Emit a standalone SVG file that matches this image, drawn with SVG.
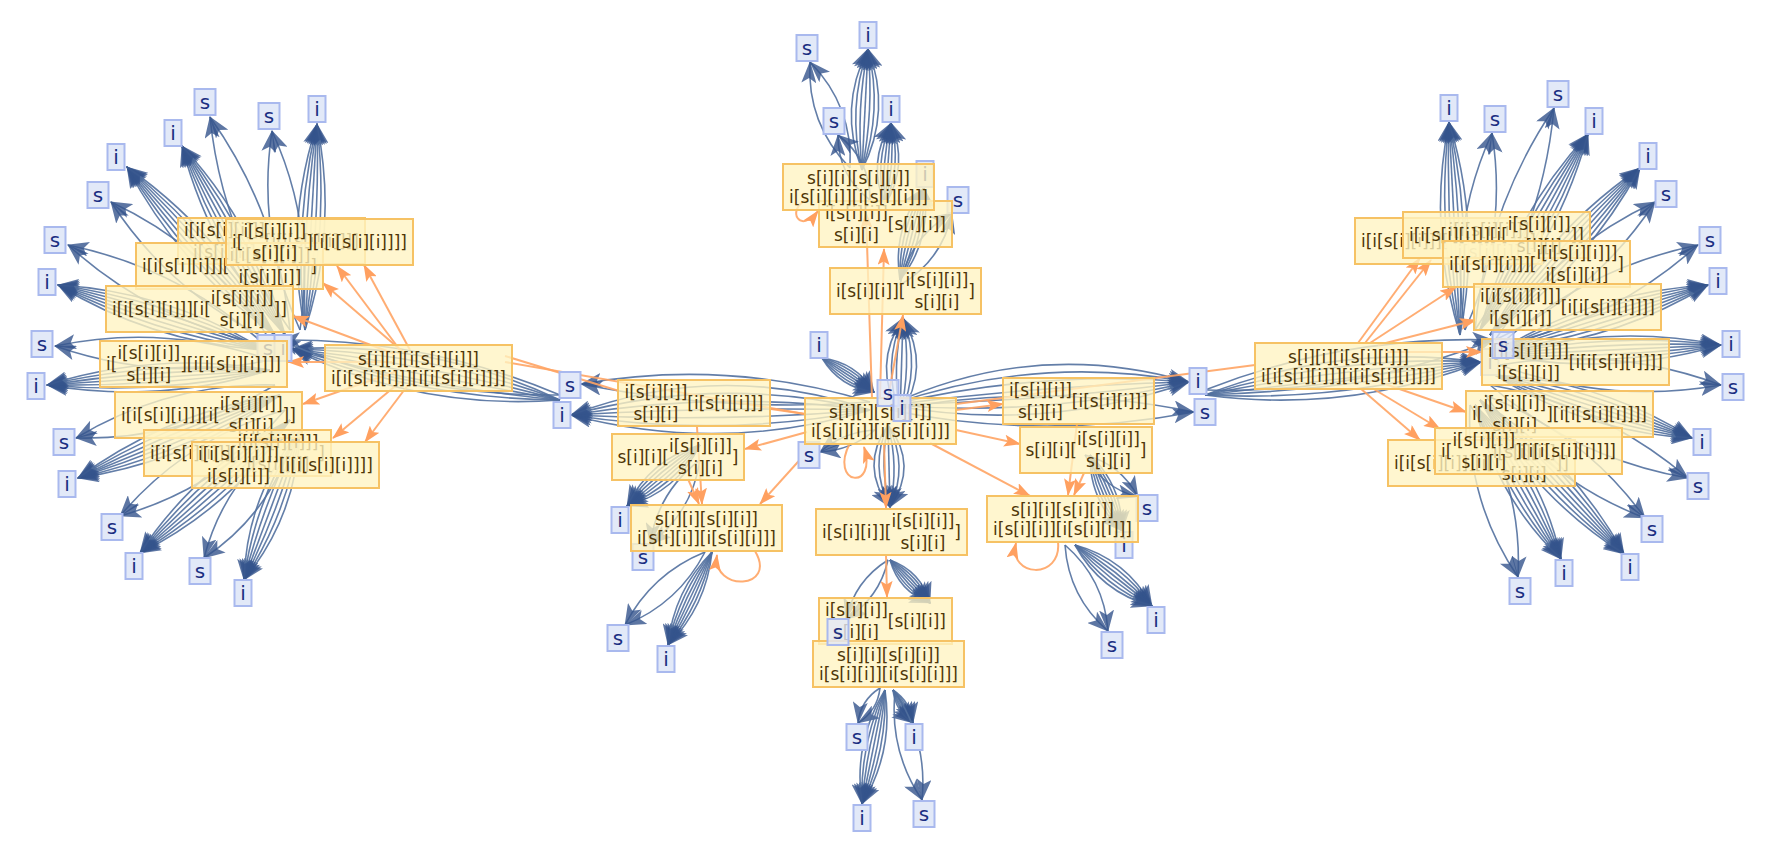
<svg xmlns="http://www.w3.org/2000/svg" width="1770" height="854" viewBox="0 0 1770 854">
<defs>
<marker id="ab" markerUnits="userSpaceOnUse" markerWidth="22" markerHeight="15" viewBox="0 0 22 15" refX="21" refY="7.5" orient="auto"><path d="M0,0 L22,7.5 L0,15 L5,7.5 Z" fill="#34548c" fill-opacity="0.8"/></marker>
<marker id="ao" markerUnits="userSpaceOnUse" markerWidth="17" markerHeight="12" viewBox="0 0 17 12" refX="16" refY="6" orient="auto"><path d="M0,0 L17,6 L0,12 L3.5,6 Z" fill="#ffa060"/></marker>
</defs>
<style>
.e{fill:none;stroke:#52709f;stroke-width:1.6;stroke-opacity:.9;marker-end:url(#ab)}
.o{fill:none;stroke:#ffa464;stroke-width:2;stroke-opacity:.9}
.oa{marker-end:url(#ao)}
.b{fill:#fff3c2;fill-opacity:.78;stroke:#f6c264;stroke-width:2}
.lf{fill:#e2e9f8;stroke:#a9b9ee;stroke-width:2}
.t{font-family:"DejaVu Sans","Liberation Sans",sans-serif;font-size:17px;fill:#4f3607}
.m{text-anchor:middle}
.lt{font-family:"DejaVu Sans","Liberation Sans",sans-serif;font-size:20px;fill:#1b2f82;text-anchor:middle}
</style>
<rect width="1770" height="854" fill="#ffffff"/>
<g id="connectors">
<g id="blue-edges">
<path class="e" d="M305,330Q284,225.4 317,124"/><path class="e" d="M305,330Q293,226 317,124"/><path class="e" d="M305,330Q302,226.5 317,124"/><path class="e" d="M305,330Q311,227 317,124"/><path class="e" d="M305,330Q320,227.5 317,124"/><path class="e" d="M305,330Q329,228 317,124"/><path class="e" d="M305,330Q338,228.6 317,124"/>
<path class="e" d="M285,335Q209.8,253.4 182,146"/><path class="e" d="M285,335Q217.7,249.1 182,146"/><path class="e" d="M285,335Q225.6,244.8 182,146"/><path class="e" d="M285,335Q233.5,240.5 182,146"/><path class="e" d="M285,335Q241.4,236.2 182,146"/><path class="e" d="M285,335Q249.3,231.9 182,146"/><path class="e" d="M285,335Q257.2,227.6 182,146"/>
<path class="e" d="M275,335Q180.7,268.8 127,167"/><path class="e" d="M275,335Q187.5,262.9 127,167"/><path class="e" d="M275,335Q194.2,257 127,167"/><path class="e" d="M275,335Q201,251 127,167"/><path class="e" d="M275,335Q207.8,245 127,167"/><path class="e" d="M275,335Q214.5,239.1 127,167"/><path class="e" d="M275,335Q221.3,233.2 127,167"/>
<path class="e" d="M265,350Q153.4,343.3 58,285"/><path class="e" d="M265,350Q156.1,334.7 58,285"/><path class="e" d="M265,350Q158.8,326.1 58,285"/><path class="e" d="M265,350Q161.5,317.5 58,285"/><path class="e" d="M265,350Q164.2,308.9 58,285"/><path class="e" d="M265,350Q166.9,300.3 58,285"/><path class="e" d="M265,350Q169.6,291.7 58,285"/>
<path class="e" d="M270,370Q160.3,404.4 47,385"/><path class="e" d="M270,370Q159.7,395.5 47,385"/><path class="e" d="M270,370Q159.1,386.5 47,385"/><path class="e" d="M270,370Q158.5,377.5 47,385"/><path class="e" d="M270,370Q157.9,368.5 47,385"/><path class="e" d="M270,370Q157.3,359.5 47,385"/><path class="e" d="M270,370Q156.7,350.6 47,385"/>
<path class="e" d="M280,395Q189.3,461.5 78,478"/><path class="e" d="M280,395Q185.8,453.1 78,478"/><path class="e" d="M280,395Q182.4,444.8 78,478"/><path class="e" d="M280,395Q179,436.5 78,478"/><path class="e" d="M280,395Q175.6,428.2 78,478"/><path class="e" d="M280,395Q172.2,419.9 78,478"/><path class="e" d="M280,395Q168.7,411.5 78,478"/>
<path class="e" d="M290,420Q232.9,506.7 140,553"/><path class="e" d="M290,420Q226.9,500 140,553"/><path class="e" d="M290,420Q221,493.2 140,553"/><path class="e" d="M290,420Q215,486.5 140,553"/><path class="e" d="M290,420Q209,479.8 140,553"/><path class="e" d="M290,420Q203.1,473 140,553"/><path class="e" d="M290,420Q197.1,466.3 140,553"/>
<path class="e" d="M300,430Q297.3,514.4 244,580"/><path class="e" d="M300,430Q288.9,511.3 244,580"/><path class="e" d="M300,430Q280.4,508.1 244,580"/><path class="e" d="M300,430Q272,505 244,580"/><path class="e" d="M300,430Q263.6,501.9 244,580"/><path class="e" d="M300,430Q255.1,498.7 244,580"/><path class="e" d="M300,430Q246.7,495.6 244,580"/>
<path class="e" d="M300,330Q256.3,234.7 272,131"/><path class="e" d="M300,330Q315.7,226.3 272,131"/>
<path class="e" d="M290,330Q221.9,234.1 210,117"/><path class="e" d="M290,330Q278.1,212.9 210,117"/>
<path class="e" d="M270,340Q170.8,293.7 111,202"/><path class="e" d="M270,340Q210.2,248.3 111,202"/>
<path class="e" d="M265,345Q152.9,321.8 68,245"/><path class="e" d="M265,345Q180.1,268.2 68,245"/>
<path class="e" d="M270,360Q160.6,382.9 55,346"/><path class="e" d="M270,360Q164.4,323.1 55,346"/>
<path class="e" d="M275,385Q183.2,440.5 76,438"/><path class="e" d="M275,385Q167.8,382.5 76,438"/>
<path class="e" d="M285,410Q218.7,488.2 120,516"/><path class="e" d="M285,410Q186.3,437.8 120,516"/>
<path class="e" d="M295,430Q273.9,511.4 204,558"/><path class="e" d="M295,430Q225.1,476.6 204,558"/>
<path class="e" d="M560,400Q419.5,410.9 292,349"/><path class="e" d="M560,400Q421.7,399.1 292,349"/><path class="e" d="M560,400Q423.8,387.3 292,349"/><path class="e" d="M560,400Q426,375.5 292,349"/><path class="e" d="M560,400Q428.2,363.7 292,349"/><path class="e" d="M560,400Q430.3,351.9 292,349"/><path class="e" d="M560,400Q432.5,340.1 292,349"/>
<path class="e" d="M560,395Q413.7,396.9 279,340"/><path class="e" d="M560,395Q425.3,338.1 279,340"/>
<path class="e" d="M862,170Q838,108.2 868,49"/><path class="e" d="M862,170Q847,108.6 868,49"/><path class="e" d="M862,170Q856,109.1 868,49"/><path class="e" d="M862,170Q865,109.5 868,49"/><path class="e" d="M862,170Q874,109.9 868,49"/><path class="e" d="M862,170Q883,110.4 868,49"/><path class="e" d="M862,170Q892,110.9 868,49"/>
<path class="e" d="M850,168Q806.6,123.8 810,62"/><path class="e" d="M850,168Q853.4,106.2 810,62"/>
<path class="e" d="M885,205Q867,162.5 891,123"/><path class="e" d="M885,205Q874,163 891,123"/><path class="e" d="M885,205Q881,163.5 891,123"/><path class="e" d="M885,205Q888,164 891,123"/><path class="e" d="M885,205Q895,164.5 891,123"/><path class="e" d="M885,205Q902,165 891,123"/><path class="e" d="M885,205Q909,165.5 891,123"/>
<path class="e" d="M870,200Q837.8,175.5 838,135"/><path class="e" d="M870,200Q870.2,159.5 838,135"/>
<path class="e" d="M900,280Q891.7,228.7 924,188"/><path class="e" d="M900,280Q898.5,230.5 924,188"/><path class="e" d="M900,280Q905.2,232.2 924,188"/><path class="e" d="M900,280Q912,234 924,188"/><path class="e" d="M900,280Q918.8,235.8 924,188"/><path class="e" d="M900,280Q925.5,237.5 924,188"/><path class="e" d="M900,280Q932.3,239.3 924,188"/>
<path class="e" d="M900,285Q909.8,237.3 952,213"/><path class="e" d="M900,285Q942.2,260.7 952,213"/>
<path class="e" d="M900,415Q871.5,365.6 903,318"/><path class="e" d="M900,415Q881.5,365.9 903,318"/><path class="e" d="M900,415Q891.5,366.2 903,318"/><path class="e" d="M900,415Q901.5,366.5 903,318"/><path class="e" d="M900,415Q911.5,366.8 903,318"/><path class="e" d="M900,415Q921.5,367.1 903,318"/><path class="e" d="M900,415Q931.5,367.4 903,318"/>
<path class="e" d="M888,425Q919,465.3 890,507"/><path class="e" d="M888,425Q909,465.5 890,507"/><path class="e" d="M888,425Q899,465.8 890,507"/><path class="e" d="M888,425Q889,466 890,507"/><path class="e" d="M888,425Q879,466.2 890,507"/><path class="e" d="M888,425Q869,466.5 890,507"/><path class="e" d="M888,425Q859,466.7 890,507"/>
<path class="e" d="M870,410Q721.3,454.5 571,415"/><path class="e" d="M870,410Q721,438.5 571,415"/><path class="e" d="M870,410Q720.8,422.5 571,415"/><path class="e" d="M870,410Q720.5,406.5 571,415"/><path class="e" d="M870,410Q720.2,390.5 571,415"/><path class="e" d="M870,410Q720,374.5 571,415"/><path class="e" d="M870,410Q719.7,358.5 571,415"/>
<path class="e" d="M870,402Q727.7,358.1 581,384"/><path class="e" d="M870,402Q724.3,413 581,384"/>
<path class="e" d="M890,405Q1035.8,337.6 1189,382"/><path class="e" d="M890,405Q1037,353.6 1189,382"/><path class="e" d="M890,405Q1038.3,369.6 1189,382"/><path class="e" d="M890,405Q1039.5,385.5 1189,382"/><path class="e" d="M890,405Q1040.7,401.4 1189,382"/><path class="e" d="M890,405Q1042,417.4 1189,382"/><path class="e" d="M890,405Q1043.2,433.4 1189,382"/>
<path class="e" d="M890,410Q1042,381 1194,412"/><path class="e" d="M890,410Q1042,441 1194,412"/>
<path class="e" d="M822,358Q856.2,362.4 874,392"/><path class="e" d="M822,358Q853.5,366.6 874,392"/><path class="e" d="M822,358Q850.7,370.8 874,392"/><path class="e" d="M822,358Q848,375 874,392"/><path class="e" d="M822,358Q845.3,379.2 874,392"/><path class="e" d="M822,358Q842.5,383.4 874,392"/><path class="e" d="M822,358Q839.8,387.6 874,392"/>
<path class="e" d="M875,430Q843.8,431.7 820,452"/><path class="e" d="M875,430Q851.2,450.3 820,452"/>
<path class="e" d="M700,445Q677,491.6 627,506"/><path class="e" d="M700,445Q672.5,486.2 627,506"/><path class="e" d="M700,445Q668,480.9 627,506"/><path class="e" d="M700,445Q663.5,475.5 627,506"/><path class="e" d="M700,445Q659,470.1 627,506"/><path class="e" d="M700,445Q654.5,464.8 627,506"/><path class="e" d="M700,445Q650,459.4 627,506"/>
<path class="e" d="M700,460Q657.8,491.8 650,544"/><path class="e" d="M700,460Q692.2,512.2 650,544"/>
<path class="e" d="M705,552Q651.5,573.7 625,625"/><path class="e" d="M705,552Q678.5,603.3 625,625"/>
<path class="e" d="M712,552Q706.3,606.2 668,645"/><path class="e" d="M712,552Q700.8,603.6 668,645"/><path class="e" d="M712,552Q695.4,601.1 668,645"/><path class="e" d="M712,552Q690,598.5 668,645"/><path class="e" d="M712,552Q684.6,595.9 668,645"/><path class="e" d="M712,552Q679.2,593.4 668,645"/><path class="e" d="M712,552Q673.7,590.8 668,645"/>
<path class="e" d="M888,560Q854.8,580.8 846,619"/><path class="e" d="M888,560Q879.2,598.2 846,619"/>
<path class="e" d="M890,560Q921,571.3 930,603"/><path class="e" d="M890,560Q917.3,574.7 930,603"/><path class="e" d="M890,560Q913.7,578.1 930,603"/><path class="e" d="M890,560Q910,581.5 930,603"/><path class="e" d="M890,560Q906.3,584.9 930,603"/><path class="e" d="M890,560Q902.7,588.3 930,603"/><path class="e" d="M890,560Q899,591.7 930,603"/>
<path class="e" d="M880,688Q860.5,700.2 858,723"/><path class="e" d="M880,688Q877.5,710.8 858,723"/>
<path class="e" d="M893,690Q910.7,701.8 913,723"/><path class="e" d="M893,690Q908.1,703.4 913,723"/><path class="e" d="M893,690Q905.6,704.9 913,723"/><path class="e" d="M893,690Q903,706.5 913,723"/><path class="e" d="M893,690Q900.4,708.1 913,723"/><path class="e" d="M893,690Q897.9,709.6 913,723"/><path class="e" d="M893,690Q895.3,711.2 913,723"/>
<path class="e" d="M885,690Q894.1,751.2 862,804"/><path class="e" d="M885,690Q887.2,749.8 862,804"/><path class="e" d="M885,690Q880.4,748.4 862,804"/><path class="e" d="M885,690Q873.5,747 862,804"/><path class="e" d="M885,690Q866.6,745.6 862,804"/><path class="e" d="M885,690Q859.8,744.2 862,804"/><path class="e" d="M885,690Q852.9,742.8 862,804"/>
<path class="e" d="M895,692Q889.1,750.9 922,800"/><path class="e" d="M895,692Q927.9,741.1 922,800"/>
<path class="e" d="M1085,455Q1102.2,487.8 1138,497"/><path class="e" d="M1085,455Q1120.8,464.2 1138,497"/>
<path class="e" d="M1090,455Q1122.6,486 1122,531"/><path class="e" d="M1090,455Q1117.1,488.3 1122,531"/><path class="e" d="M1090,455Q1111.5,490.7 1122,531"/><path class="e" d="M1090,455Q1106,493 1122,531"/><path class="e" d="M1090,455Q1100.5,495.3 1122,531"/><path class="e" d="M1090,455Q1094.9,497.7 1122,531"/><path class="e" d="M1090,455Q1089.4,500 1122,531"/>
<path class="e" d="M1075,545Q1126.5,559 1152,606"/><path class="e" d="M1075,545Q1122.2,564.5 1152,606"/><path class="e" d="M1075,545Q1117.8,570 1152,606"/><path class="e" d="M1075,545Q1113.5,575.5 1152,606"/><path class="e" d="M1075,545Q1109.2,581 1152,606"/><path class="e" d="M1075,545Q1104.8,586.5 1152,606"/><path class="e" d="M1075,545Q1100.5,592 1152,606"/>
<path class="e" d="M1065,545Q1068.6,596.9 1108,631"/><path class="e" d="M1065,545Q1104.4,579.1 1108,631"/>
<path class="e" d="M1205,395Q1338.7,342.8 1481,362"/><path class="e" d="M1205,395Q1340.2,354.7 1481,362"/><path class="e" d="M1205,395Q1341.6,366.6 1481,362"/><path class="e" d="M1205,395Q1343,378.5 1481,362"/><path class="e" d="M1205,395Q1344.4,390.4 1481,362"/><path class="e" d="M1205,395Q1345.8,402.3 1481,362"/><path class="e" d="M1205,395Q1347.3,414.2 1481,362"/>
<path class="e" d="M1205,390Q1343.9,335.4 1493,340"/><path class="e" d="M1205,390Q1354.1,394.6 1493,340"/>
<path class="e" d="M1460,335Q1427.5,229.9 1449,122"/><path class="e" d="M1460,335Q1436.5,229.4 1449,122"/><path class="e" d="M1460,335Q1445.5,229 1449,122"/><path class="e" d="M1460,335Q1454.5,228.5 1449,122"/><path class="e" d="M1460,335Q1463.5,228 1449,122"/><path class="e" d="M1460,335Q1472.5,227.6 1449,122"/><path class="e" d="M1460,335Q1481.5,227.1 1449,122"/>
<path class="e" d="M1465,330Q1448.8,227.4 1492,133"/><path class="e" d="M1465,330Q1508.2,235.6 1492,133"/>
<path class="e" d="M1475,330Q1486.2,208.9 1554,108"/><path class="e" d="M1475,330Q1542.8,229.1 1554,108"/>
<path class="e" d="M1480,330Q1510.4,219 1588,134"/><path class="e" d="M1480,330Q1518.2,223.3 1588,134"/><path class="e" d="M1480,330Q1526.1,227.7 1588,134"/><path class="e" d="M1480,330Q1534,232 1588,134"/><path class="e" d="M1480,330Q1541.9,236.3 1588,134"/><path class="e" d="M1480,330Q1549.8,240.7 1588,134"/><path class="e" d="M1480,330Q1557.6,245 1588,134"/>
<path class="e" d="M1490,335Q1544.9,233.5 1640,168"/><path class="e" d="M1490,335Q1551.6,239.5 1640,168"/><path class="e" d="M1490,335Q1558.3,245.5 1640,168"/><path class="e" d="M1490,335Q1565,251.5 1640,168"/><path class="e" d="M1490,335Q1571.7,257.5 1640,168"/><path class="e" d="M1490,335Q1578.4,263.5 1640,168"/><path class="e" d="M1490,335Q1585.1,269.5 1640,168"/>
<path class="e" d="M1495,340Q1555.4,248.3 1655,202"/><path class="e" d="M1495,340Q1594.6,293.7 1655,202"/>
<path class="e" d="M1500,345Q1585.5,268.2 1698,245"/><path class="e" d="M1500,345Q1612.5,321.8 1698,245"/>
<path class="e" d="M1500,350Q1596,291.7 1708,285"/><path class="e" d="M1500,350Q1598.6,300.3 1708,285"/><path class="e" d="M1500,350Q1601.3,308.9 1708,285"/><path class="e" d="M1500,350Q1604,317.5 1708,285"/><path class="e" d="M1500,350Q1606.7,326.1 1708,285"/><path class="e" d="M1500,350Q1609.4,334.7 1708,285"/><path class="e" d="M1500,350Q1612,343.3 1708,285"/>
<path class="e" d="M1500,355Q1609.3,323 1721,345"/><path class="e" d="M1500,355Q1609.7,332 1721,345"/><path class="e" d="M1500,355Q1610.1,341 1721,345"/><path class="e" d="M1500,355Q1610.5,350 1721,345"/><path class="e" d="M1500,355Q1610.9,359 1721,345"/><path class="e" d="M1500,355Q1611.3,368 1721,345"/><path class="e" d="M1500,355Q1611.7,377 1721,345"/>
<path class="e" d="M1500,365Q1613.2,345.1 1721,385"/><path class="e" d="M1500,365Q1607.8,404.9 1721,385"/>
<path class="e" d="M1495,375Q1601.7,380.8 1692,438"/><path class="e" d="M1495,375Q1599,389.4 1692,438"/><path class="e" d="M1495,375Q1596.2,397.9 1692,438"/><path class="e" d="M1495,375Q1593.5,406.5 1692,438"/><path class="e" d="M1495,375Q1590.8,415.1 1692,438"/><path class="e" d="M1495,375Q1588,423.6 1692,438"/><path class="e" d="M1495,375Q1585.3,432.2 1692,438"/>
<path class="e" d="M1490,385Q1601.8,404.4 1688,478"/><path class="e" d="M1490,385Q1576.2,458.6 1688,478"/>
<path class="e" d="M1485,395Q1583.3,432.7 1645,518"/><path class="e" d="M1485,395Q1546.7,480.3 1645,518"/>
<path class="e" d="M1480,400Q1571.7,458.6 1624,554"/><path class="e" d="M1480,400Q1565.2,464.7 1624,554"/><path class="e" d="M1480,400Q1558.6,470.9 1624,554"/><path class="e" d="M1480,400Q1552,477 1624,554"/><path class="e" d="M1480,400Q1545.4,483.1 1624,554"/><path class="e" d="M1480,400Q1538.8,489.3 1624,554"/><path class="e" d="M1480,400Q1532.3,495.4 1624,554"/>
<path class="e" d="M1475,405Q1541.6,468.8 1561,559"/><path class="e" d="M1475,405Q1533.7,473.2 1561,559"/><path class="e" d="M1475,405Q1525.9,477.6 1561,559"/><path class="e" d="M1475,405Q1518,482 1561,559"/><path class="e" d="M1475,405Q1510.1,486.4 1561,559"/><path class="e" d="M1475,405Q1502.3,490.8 1561,559"/><path class="e" d="M1475,405Q1494.4,495.2 1561,559"/>
<path class="e" d="M1470,405Q1522.9,482.9 1518,577"/><path class="e" d="M1470,405Q1465.1,499.1 1518,577"/>
</g>
<g id="orange-edges">
<path class="o oa" d="M400,350L337,266"/>
<path class="o oa" d="M410,350L364,265"/>
<path class="o oa" d="M403,352L323,283"/>
<path class="o oa" d="M395,354L293,316"/>
<path class="o oa" d="M392,362L288,362"/>
<path class="o oa" d="M395,372L303,404"/>
<path class="o oa" d="M400,382L333,438"/>
<path class="o oa" d="M408,385L365,442"/>
<path class="o" d="M505,356L619,391"/>
<path class="o" d="M505,362L805,414"/>
<path class="o oa" d="M872,398L866,212"/>
<path class="o oa" d="M880,398L884,249"/>
<path class="o oa" d="M888,398L903,315"/>
<path class="o" d="M805,414L771,409"/>
<path class="o oa" d="M807,432L745,449"/>
<path class="o oa" d="M815,443L760,504"/>
<path class="o oa" d="M697,427L702,504"/>
<path class="o oa" d="M688,479L699,504"/>
<path class="o oa" d="M884,443L886,508"/>
<path class="o oa" d="M886,555L887,597"/>
<path class="o oa" d="M956,430L1020,444"/>
<path class="o oa" d="M930,443L1030,496"/>
<path class="o oa" d="M1077,424L1068,495"/>
<path class="o oa" d="M1084,473L1074,495"/>
<path class="o oa" d="M956,410L1003,404"/>
<path class="o" d="M956,404L1255,365"/>
<path class="o oa" d="M755,551C778,590 712,592 717,555"/>
<path class="o oa" d="M850,443C828,485 878,492 864,447"/>
<path class="o oa" d="M806,200C786,210 800,235 818,211"/>
<path class="o oa" d="M1058,542C1062,580 1008,578 1016,543"/>
<path class="o oa" d="M1365,343L1431,260"/>
<path class="o oa" d="M1358,343L1420,258"/>
<path class="o oa" d="M1370,343L1456,287"/>
<path class="o oa" d="M1378,345L1476,320"/>
<path class="o oa" d="M1385,352L1482,352"/>
<path class="o oa" d="M1385,384L1466,412"/>
<path class="o oa" d="M1372,388L1440,429"/>
<path class="o oa" d="M1360,388L1420,440"/>
</g>
</g>
<g id="leaves">
<g id="leaf-L1"><rect class="lf" x="194.5" y="89" width="21" height="26"/><text class="lt" x="205" y="109">s</text></g>
<g id="leaf-L2"><rect class="lf" x="164.5" y="120" width="17" height="26"/><text class="lt" x="173" y="140">i</text></g>
<g id="leaf-L3"><rect class="lf" x="258.5" y="103" width="21" height="26"/><text class="lt" x="269" y="123">s</text></g>
<g id="leaf-L4"><rect class="lf" x="308.5" y="96" width="17" height="26"/><text class="lt" x="317" y="116">i</text></g>
<g id="leaf-L5"><rect class="lf" x="107.5" y="144" width="17" height="26"/><text class="lt" x="116" y="164">i</text></g>
<g id="leaf-L6"><rect class="lf" x="87.5" y="182" width="21" height="26"/><text class="lt" x="98" y="202">s</text></g>
<g id="leaf-L7"><rect class="lf" x="44.5" y="227" width="21" height="26"/><text class="lt" x="55" y="247">s</text></g>
<g id="leaf-L8"><rect class="lf" x="38.5" y="269" width="17" height="26"/><text class="lt" x="47" y="289">i</text></g>
<g id="leaf-L9"><rect class="lf" x="31.5" y="331" width="21" height="26"/><text class="lt" x="42" y="351">s</text></g>
<g id="leaf-L10"><rect class="lf" x="27.5" y="373" width="17" height="26"/><text class="lt" x="36" y="393">i</text></g>
<g id="leaf-L11"><rect class="lf" x="53.5" y="429" width="21" height="26"/><text class="lt" x="64" y="449">s</text></g>
<g id="leaf-L12"><rect class="lf" x="58.5" y="471" width="17" height="26"/><text class="lt" x="67" y="491">i</text></g>
<g id="leaf-L13"><rect class="lf" x="101.5" y="514" width="21" height="26"/><text class="lt" x="112" y="534">s</text></g>
<g id="leaf-L14"><rect class="lf" x="125.5" y="553" width="17" height="26"/><text class="lt" x="134" y="573">i</text></g>
<g id="leaf-L15"><rect class="lf" x="189.5" y="558" width="21" height="26"/><text class="lt" x="200" y="578">s</text></g>
<g id="leaf-L16"><rect class="lf" x="234.5" y="580" width="17" height="26"/><text class="lt" x="243" y="600">i</text></g>
<g id="leaf-L17"><rect class="lf" x="257.5" y="335" width="21" height="26"/><text class="lt" x="268" y="355">s</text></g>
<g id="leaf-L18"><rect class="lf" x="274.5" y="335" width="17" height="26"/><text class="lt" x="283" y="355">i</text></g>
<g id="leaf-T1"><rect class="lf" x="796.5" y="35" width="21" height="26"/><text class="lt" x="807" y="55">s</text></g>
<g id="leaf-T2"><rect class="lf" x="859.5" y="22" width="17" height="26"/><text class="lt" x="868" y="42">i</text></g>
<g id="leaf-T3"><rect class="lf" x="823.5" y="108" width="21" height="26"/><text class="lt" x="834" y="128">s</text></g>
<g id="leaf-T4"><rect class="lf" x="882.5" y="96" width="17" height="26"/><text class="lt" x="891" y="116">i</text></g>
<g id="leaf-T5"><rect class="lf" x="916.5" y="161" width="17" height="26"/><text class="lt" x="925" y="181">i</text></g>
<g id="leaf-T6"><rect class="lf" x="947.5" y="187" width="21" height="26"/><text class="lt" x="958" y="207">s</text></g>
<g id="leaf-N1"><rect class="lf" x="810.5" y="332" width="17" height="26"/><text class="lt" x="819" y="352">i</text></g>
<g id="leaf-N4"><rect class="lf" x="798.5" y="442" width="21" height="26"/><text class="lt" x="809" y="462">s</text></g>
<g id="leaf-CL1"><rect class="lf" x="559.5" y="372" width="21" height="26"/><text class="lt" x="570" y="392">s</text></g>
<g id="leaf-CL2"><rect class="lf" x="553.5" y="402" width="17" height="26"/><text class="lt" x="562" y="422">i</text></g>
<g id="leaf-CL3"><rect class="lf" x="611.5" y="507" width="17" height="26"/><text class="lt" x="620" y="527">i</text></g>
<g id="leaf-CL4"><rect class="lf" x="632.5" y="544" width="21" height="26"/><text class="lt" x="643" y="564">s</text></g>
<g id="leaf-CL5"><rect class="lf" x="607.5" y="625" width="21" height="26"/><text class="lt" x="618" y="645">s</text></g>
<g id="leaf-CL6"><rect class="lf" x="657.5" y="646" width="17" height="26"/><text class="lt" x="666" y="666">i</text></g>
<g id="leaf-B2"><rect class="lf" x="846.5" y="724" width="21" height="26"/><text class="lt" x="857" y="744">s</text></g>
<g id="leaf-B3"><rect class="lf" x="905.5" y="724" width="17" height="26"/><text class="lt" x="914" y="744">i</text></g>
<g id="leaf-B4"><rect class="lf" x="853.5" y="805" width="17" height="26"/><text class="lt" x="862" y="825">i</text></g>
<g id="leaf-B5"><rect class="lf" x="913.5" y="801" width="21" height="26"/><text class="lt" x="924" y="821">s</text></g>
<g id="leaf-CR1"><rect class="lf" x="1189.5" y="368" width="17" height="26"/><text class="lt" x="1198" y="388">i</text></g>
<g id="leaf-CR2"><rect class="lf" x="1194.5" y="399" width="21" height="26"/><text class="lt" x="1205" y="419">s</text></g>
<g id="leaf-CR3"><rect class="lf" x="1136.5" y="495" width="21" height="26"/><text class="lt" x="1147" y="515">s</text></g>
<g id="leaf-CR4"><rect class="lf" x="1115.5" y="532" width="17" height="26"/><text class="lt" x="1124" y="552">i</text></g>
<g id="leaf-CR5"><rect class="lf" x="1147.5" y="607" width="17" height="26"/><text class="lt" x="1156" y="627">i</text></g>
<g id="leaf-CR6"><rect class="lf" x="1101.5" y="632" width="21" height="26"/><text class="lt" x="1112" y="652">s</text></g>
<g id="leaf-R1"><rect class="lf" x="1440.5" y="95" width="17" height="26"/><text class="lt" x="1449" y="115">i</text></g>
<g id="leaf-R2"><rect class="lf" x="1484.5" y="106" width="21" height="26"/><text class="lt" x="1495" y="126">s</text></g>
<g id="leaf-R3"><rect class="lf" x="1547.5" y="81" width="21" height="26"/><text class="lt" x="1558" y="101">s</text></g>
<g id="leaf-R4"><rect class="lf" x="1585.5" y="108" width="17" height="26"/><text class="lt" x="1594" y="128">i</text></g>
<g id="leaf-R5"><rect class="lf" x="1639.5" y="143" width="17" height="26"/><text class="lt" x="1648" y="163">i</text></g>
<g id="leaf-R6"><rect class="lf" x="1655.5" y="181" width="21" height="26"/><text class="lt" x="1666" y="201">s</text></g>
<g id="leaf-R7"><rect class="lf" x="1699.5" y="227" width="21" height="26"/><text class="lt" x="1710" y="247">s</text></g>
<g id="leaf-R8"><rect class="lf" x="1709.5" y="268" width="17" height="26"/><text class="lt" x="1718" y="288">i</text></g>
<g id="leaf-R9"><rect class="lf" x="1722.5" y="331" width="17" height="26"/><text class="lt" x="1731" y="351">i</text></g>
<g id="leaf-R10"><rect class="lf" x="1722.5" y="374" width="21" height="26"/><text class="lt" x="1733" y="394">s</text></g>
<g id="leaf-R11"><rect class="lf" x="1693.5" y="429" width="17" height="26"/><text class="lt" x="1702" y="449">i</text></g>
<g id="leaf-R12"><rect class="lf" x="1687.5" y="473" width="21" height="26"/><text class="lt" x="1698" y="493">s</text></g>
<g id="leaf-R13"><rect class="lf" x="1641.5" y="516" width="21" height="26"/><text class="lt" x="1652" y="536">s</text></g>
<g id="leaf-R14"><rect class="lf" x="1621.5" y="554" width="17" height="26"/><text class="lt" x="1630" y="574">i</text></g>
<g id="leaf-R15"><rect class="lf" x="1555.5" y="560" width="17" height="26"/><text class="lt" x="1564" y="580">i</text></g>
<g id="leaf-R16"><rect class="lf" x="1509.5" y="578" width="21" height="26"/><text class="lt" x="1520" y="598">s</text></g>
<g id="leaf-R18"><rect class="lf" x="1481.5" y="349" width="17" height="26"/><text class="lt" x="1490" y="369">i</text></g>
</g>
<g id="boxes">
<g id="n-La"><rect class="b" x="178" y="218" width="187" height="46"/><text class="t m" x="224.4" y="236">i[i[s[i][i]]]</text><text class="t m" x="224.4" y="258">i[s[i][i]]</text><text class="t" x="264.8" y="247">[i[i[s[i][i]]]]</text></g>
<g id="n-Lc"><rect class="b" x="136" y="243" width="187" height="46"/><text class="t" x="142" y="272">i[i[s[i][i]]][</text><text class="t m" x="269.9" y="261">i[i[s[i][i]]]</text><text class="t m" x="269.9" y="283">i[s[i][i]]</text><text class="t" x="310.3" y="272">]</text></g>
<g id="n-Lb"><rect class="b" x="226" y="219" width="187" height="46"/><text class="t" x="232" y="248">i[</text><text class="t m" x="274.8" y="237">i[s[i][i]]</text><text class="t m" x="274.8" y="259">s[i][i]</text><text class="t" x="306.2" y="248">][i[i[s[i][i]]]]</text></g>
<g id="n-Ld"><rect class="b" x="106" y="286" width="187" height="46"/><text class="t" x="112" y="315">i[i[s[i][i]]][i[</text><text class="t m" x="242.2" y="304">i[s[i][i]]</text><text class="t m" x="242.2" y="326">s[i][i]</text><text class="t" x="273.6" y="315">]]</text></g>
<g id="n-Le"><rect class="b" x="100" y="341" width="187" height="46"/><text class="t" x="106" y="370">i[</text><text class="t m" x="148.8" y="359">i[s[i][i]]</text><text class="t m" x="148.8" y="381">s[i][i]</text><text class="t" x="180.2" y="370">][i[i[s[i][i]]]]</text></g>
<g id="n-Lf"><rect class="b" x="115" y="392" width="187" height="46"/><text class="t" x="121" y="421">i[i[s[i][i]]][i[</text><text class="t m" x="251.2" y="410">i[s[i][i]]</text><text class="t m" x="251.2" y="432">s[i][i]</text><text class="t" x="282.6" y="421">]]</text></g>
<g id="n-Lg"><rect class="b" x="144" y="430" width="187" height="46"/><text class="t" x="150" y="459">i[i[s[i][i]]][</text><text class="t m" x="277.9" y="448">i[i[s[i][i]]]</text><text class="t m" x="277.9" y="470">i[s[i][i]]</text><text class="t" x="318.3" y="459">]</text></g>
<g id="n-Lh"><rect class="b" x="192" y="442" width="187" height="46"/><text class="t m" x="238.4" y="460">i[i[s[i][i]]]</text><text class="t m" x="238.4" y="482">i[s[i][i]]</text><text class="t" x="278.8" y="471">[i[i[s[i][i]]]]</text></g>
<g id="n-L0"><rect class="b" x="325" y="345" width="187" height="46"/><text class="t m" x="418.5" y="365">s[i][i][i[s[i][i]]]</text><text class="t m" x="418.5" y="384">i[i[s[i][i]]][i[i[s[i][i]]]]</text></g>
<g id="n-Fup"><rect class="b" x="819" y="201" width="133" height="46"/><text class="t m" x="856.4" y="219">i[s[i][i]]</text><text class="t m" x="856.4" y="241">s[i][i]</text><text class="t" x="887.8" y="230">[s[i][i]]</text></g>
<g id="n-C1"><rect class="b" x="783" y="164" width="151" height="46"/><text class="t m" x="858.5" y="184">s[i][i][s[i][i]]</text><text class="t m" x="858.5" y="203">i[s[i][i]][i[s[i][i]]]</text></g>
<g id="n-Eup"><rect class="b" x="830" y="268" width="151" height="46"/><text class="t" x="836" y="297">i[s[i][i]][</text><text class="t m" x="936.9" y="286">i[s[i][i]]</text><text class="t m" x="936.9" y="308">s[i][i]</text><text class="t" x="968.3" y="297">]</text></g>
<g id="n-CL1"><rect class="b" x="618" y="380" width="152" height="46"/><text class="t m" x="655.9" y="398">i[s[i][i]]</text><text class="t m" x="655.9" y="420">s[i][i]</text><text class="t" x="687.3" y="409">[i[s[i][i]]]</text></g>
<g id="n-CL2"><rect class="b" x="612" y="434" width="132" height="46"/><text class="t" x="617.5" y="463">s[i][i][</text><text class="t m" x="700.4" y="452">i[s[i][i]]</text><text class="t m" x="700.4" y="474">s[i][i]</text><text class="t" x="731.8" y="463">]</text></g>
<g id="n-CL3"><rect class="b" x="631" y="505" width="151" height="46"/><text class="t m" x="706.5" y="525">s[i][i][s[i][i]]</text><text class="t m" x="706.5" y="544">i[s[i][i]][i[s[i][i]]]</text></g>
<g id="n-C0"><rect class="b" x="805" y="398" width="151" height="46"/><text class="t m" x="880.5" y="418">s[i][i][s[i][i]]</text><text class="t m" x="880.5" y="437">i[s[i][i]][i[s[i][i]]]</text></g>
<g id="n-Edn"><rect class="b" x="816" y="509" width="151" height="46"/><text class="t" x="822" y="538">i[s[i][i]][</text><text class="t m" x="922.9" y="527">i[s[i][i]]</text><text class="t m" x="922.9" y="549">s[i][i]</text><text class="t" x="954.3" y="538">]</text></g>
<g id="n-Fdn"><rect class="b" x="819" y="598" width="133" height="46"/><text class="t m" x="856.4" y="616">i[s[i][i]]</text><text class="t m" x="856.4" y="638">s[i][i]</text><text class="t" x="887.8" y="627">[s[i][i]]</text></g>
<g id="n-CD"><rect class="b" x="813" y="641" width="151" height="46"/><text class="t m" x="888.5" y="661">s[i][i][s[i][i]]</text><text class="t m" x="888.5" y="680">i[s[i][i]][i[s[i][i]]]</text></g>
<g id="n-CR1"><rect class="b" x="1003" y="378" width="151" height="46"/><text class="t m" x="1040.4" y="396">i[s[i][i]]</text><text class="t m" x="1040.4" y="418">s[i][i]</text><text class="t" x="1071.8" y="407">[i[s[i][i]]]</text></g>
<g id="n-CR2"><rect class="b" x="1020" y="427" width="132" height="46"/><text class="t" x="1025.5" y="456">s[i][i][</text><text class="t m" x="1108.4" y="445">i[s[i][i]]</text><text class="t m" x="1108.4" y="467">s[i][i]</text><text class="t" x="1139.8" y="456">]</text></g>
<g id="n-CR3"><rect class="b" x="987" y="496" width="151" height="46"/><text class="t m" x="1062.5" y="516">s[i][i][s[i][i]]</text><text class="t m" x="1062.5" y="535">i[s[i][i]][i[s[i][i]]]</text></g>
<g id="n-R0"><rect class="b" x="1255" y="343" width="187" height="46"/><text class="t m" x="1348.5" y="363">s[i][i][i[s[i][i]]]</text><text class="t m" x="1348.5" y="382">i[i[s[i][i]]][i[i[s[i][i]]]]</text></g>
<g id="n-Ra"><rect class="b" x="1355" y="218" width="187" height="46"/><text class="t" x="1361" y="247">i[i[s[i][i]]][</text><text class="t m" x="1488.9" y="236">i[i[s[i][i]]]</text><text class="t m" x="1488.9" y="258">i[s[i][i]]</text><text class="t" x="1529.3" y="247">]</text></g>
<g id="n-Rb"><rect class="b" x="1403" y="212" width="187" height="46"/><text class="t" x="1409" y="241">i[i[s[i][i]]][i[</text><text class="t m" x="1539.2" y="230">i[s[i][i]]</text><text class="t m" x="1539.2" y="252">s[i][i]</text><text class="t" x="1570.6" y="241">]]</text></g>
<g id="n-Rc"><rect class="b" x="1443" y="241" width="187" height="46"/><text class="t" x="1449" y="270">i[i[s[i][i]]][</text><text class="t m" x="1576.9" y="259">i[i[s[i][i]]]</text><text class="t m" x="1576.9" y="281">i[s[i][i]]</text><text class="t" x="1617.3" y="270">]</text></g>
<g id="n-Rd"><rect class="b" x="1474" y="284" width="187" height="46"/><text class="t m" x="1520.4" y="302">i[i[s[i][i]]]</text><text class="t m" x="1520.4" y="324">i[s[i][i]]</text><text class="t" x="1560.8" y="313">[i[i[s[i][i]]]]</text></g>
<g id="n-Re"><rect class="b" x="1482" y="339" width="187" height="46"/><text class="t m" x="1528.4" y="357">i[i[s[i][i]]]</text><text class="t m" x="1528.4" y="379">i[s[i][i]]</text><text class="t" x="1568.8" y="368">[i[i[s[i][i]]]]</text></g>
<g id="n-Rf"><rect class="b" x="1466" y="391" width="187" height="46"/><text class="t" x="1472" y="420">i[</text><text class="t m" x="1514.8" y="409">i[s[i][i]]</text><text class="t m" x="1514.8" y="431">s[i][i]</text><text class="t" x="1546.2" y="420">][i[i[s[i][i]]]]</text></g>
<g id="n-Rg"><rect class="b" x="1388" y="440" width="187" height="46"/><text class="t" x="1394" y="469">i[i[s[i][i]]][i[</text><text class="t m" x="1524.2" y="458">i[s[i][i]]</text><text class="t m" x="1524.2" y="480">s[i][i]</text><text class="t" x="1555.6" y="469">]]</text></g>
<g id="n-Rh"><rect class="b" x="1435" y="428" width="187" height="46"/><text class="t" x="1441" y="457">i[</text><text class="t m" x="1483.8" y="446">i[s[i][i]]</text><text class="t m" x="1483.8" y="468">s[i][i]</text><text class="t" x="1515.2" y="457">][i[i[s[i][i]]]]</text></g>
</g>
<g id="top-leaves">
<g id="leaf-N2"><rect class="lf" x="877.5" y="380" width="21" height="26" fill-opacity="0.8"/><text class="lt" x="888" y="400">s</text></g>
<g id="leaf-N3"><rect class="lf" x="893.5" y="395" width="17" height="26" fill-opacity="0.8"/><text class="lt" x="902" y="415">i</text></g>
<g id="leaf-B1"><rect class="lf" x="827.5" y="619" width="21" height="26" fill-opacity="0.8"/><text class="lt" x="838" y="639">s</text></g>
<g id="leaf-R17"><rect class="lf" x="1492.5" y="332" width="21" height="26" fill-opacity="0.8"/><text class="lt" x="1503" y="352">s</text></g>
</g>
</svg>
